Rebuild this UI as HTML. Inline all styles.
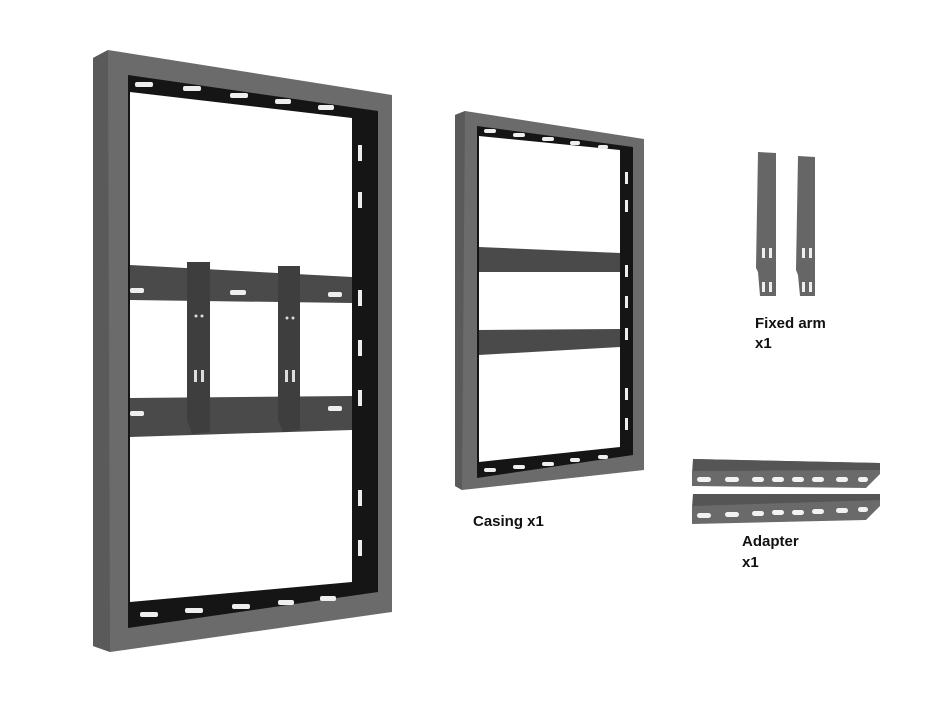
<!DOCTYPE html>
<html><head><meta charset="utf-8"><style>
html,body{margin:0;padding:0;background:#fff;}
svg{display:block;}
text{font-family:"Liberation Sans",Arial,sans-serif;font-weight:bold;font-size:15px;fill:#111;}
</style></head><body>
<svg width="940" height="705" viewBox="0 0 940 705" xmlns="http://www.w3.org/2000/svg">
<!-- Big frame -->
<polygon points="93,58 108,50 392,95 392,612 110,652 93,646" fill="#6b6b6b"/>
<polygon points="93,58 108,50 110,652 93,646" fill="#5a5a5a"/>
<polygon points="128,75 378,111 378,592 128,628" fill="#151515"/>
<polygon points="130,92 352,118 352,582 130,602" fill="#fff"/>
<g fill="#eee">
<rect x="135" y="82" width="18" height="5" rx="2"/><rect x="183" y="86" width="18" height="5" rx="2"/><rect x="230" y="93" width="18" height="5" rx="2"/><rect x="275" y="99" width="16" height="5" rx="2"/><rect x="318" y="105" width="16" height="5" rx="2"/>
<rect x="358" y="145" width="4" height="16"/><rect x="358" y="192" width="4" height="16"/><rect x="358" y="290" width="4" height="16"/><rect x="358" y="340" width="4" height="16"/><rect x="358" y="390" width="4" height="16"/><rect x="358" y="490" width="4" height="16"/><rect x="358" y="540" width="4" height="16"/>
<rect x="140" y="612" width="18" height="5" rx="2"/><rect x="185" y="608" width="18" height="5" rx="2"/><rect x="232" y="604" width="18" height="5" rx="2"/><rect x="278" y="600" width="16" height="5" rx="2"/><rect x="320" y="596" width="16" height="5" rx="2"/>
</g>
<!-- rails -->
<polygon points="130,265 352,277 352,303 130,300" fill="#4a4a4a"/>
<polygon points="130,398 352,396 352,430 130,437" fill="#4a4a4a"/>
<g fill="#eee"><rect x="130" y="288" width="14" height="5" rx="2"/><rect x="230" y="290" width="16" height="5" rx="2"/><rect x="328" y="292" width="14" height="5" rx="2"/>
<rect x="130" y="411" width="14" height="5" rx="2"/><rect x="328" y="406" width="14" height="5" rx="2"/></g>
<!-- arms -->
<polygon points="187,262 210,262 210,432 192,434 187,420" fill="#3e3e3e"/>
<polygon points="278,266 300,266 300,430 283,432 278,420" fill="#3e3e3e"/>
<g fill="#ddd"><rect x="194" y="370" width="3" height="12"/><rect x="201" y="370" width="3" height="12"/><rect x="285" y="370" width="3" height="12"/><rect x="292" y="370" width="3" height="12"/>
<circle cx="196" cy="316" r="1.5"/><circle cx="202" cy="316" r="1.5"/><circle cx="287" cy="318" r="1.5"/><circle cx="293" cy="318" r="1.5"/></g>
<!-- Casing -->
<polygon points="455,115 465,111 644,139 644,470 462,490 455,486" fill="#6b6b6b"/>
<polygon points="455,115 465,111 462,490 455,486" fill="#5a5a5a"/>
<polygon points="477,126 633,147 633,455 477,478" fill="#151515"/>
<polygon points="479,136 620,150 620,447 479,462" fill="#fff"/>
<polygon points="479,247 620,253 620,272 479,272" fill="#4a4a4a"/>
<polygon points="479,330 620,329 620,347 479,355" fill="#4a4a4a"/>
<g fill="#eee"><rect x="484" y="129" width="12" height="4" rx="2"/><rect x="513" y="133" width="12" height="4" rx="2"/><rect x="542" y="137" width="12" height="4" rx="2"/><rect x="570" y="141" width="10" height="4" rx="2"/><rect x="598" y="145" width="10" height="4" rx="2"/>
<rect x="484" y="468" width="12" height="4" rx="2"/><rect x="513" y="465" width="12" height="4" rx="2"/><rect x="542" y="462" width="12" height="4" rx="2"/><rect x="570" y="458" width="10" height="4" rx="2"/><rect x="598" y="455" width="10" height="4" rx="2"/>
<rect x="625" y="172" width="3" height="12"/><rect x="625" y="200" width="3" height="12"/><rect x="625" y="265" width="3" height="12"/><rect x="625" y="296" width="3" height="12"/><rect x="625" y="328" width="3" height="12"/><rect x="625" y="388" width="3" height="12"/><rect x="625" y="418" width="3" height="12"/></g>
<text x="473" y="526">Casing x1</text>
<!-- Fixed arms -->
<polygon points="758,152 776,153 776,296 760,296 758,272 756,268" fill="#666"/>
<polygon points="798,156 815,157 815,296 800,296 798,275 796,270" fill="#666"/>
<g fill="#eee"><rect x="762" y="248" width="3" height="10"/><rect x="769" y="248" width="3" height="10"/><rect x="762" y="282" width="3" height="10"/><rect x="769" y="282" width="3" height="10"/>
<rect x="802" y="248" width="3" height="10"/><rect x="809" y="248" width="3" height="10"/><rect x="802" y="282" width="3" height="10"/><rect x="809" y="282" width="3" height="10"/></g>
<text x="755" y="328">Fixed arm</text>
<text x="755" y="348">x1</text>
<!-- Adapters -->
<polygon points="693,459 880,463 880,474 866,488 692,486 692,472" fill="#6a6a6a"/>
<polygon points="693,459 880,463 880,470 693,471" fill="#555"/>
<polygon points="693,494 880,494 880,506 866,520 692,524 692,506" fill="#6a6a6a"/>
<polygon points="693,494 880,494 880,500 693,506" fill="#555"/>
<g fill="#f2f2f2"><rect x="697" y="477" width="14" height="5" rx="2.5"/><rect x="725" y="477" width="14" height="5" rx="2.5"/><rect x="752" y="477" width="12" height="5" rx="2.5"/><rect x="772" y="477" width="12" height="5" rx="2.5"/><rect x="792" y="477" width="12" height="5" rx="2.5"/><rect x="812" y="477" width="12" height="5" rx="2.5"/><rect x="836" y="477" width="12" height="5" rx="2.5"/><rect x="858" y="477" width="10" height="5" rx="2.5"/>
<rect x="697" y="513" width="14" height="5" rx="2.5"/><rect x="725" y="512" width="14" height="5" rx="2.5"/><rect x="752" y="511" width="12" height="5" rx="2.5"/><rect x="772" y="510" width="12" height="5" rx="2.5"/><rect x="792" y="510" width="12" height="5" rx="2.5"/><rect x="812" y="509" width="12" height="5" rx="2.5"/><rect x="836" y="508" width="12" height="5" rx="2.5"/><rect x="858" y="507" width="10" height="5" rx="2.5"/></g>
<text x="742" y="546">Adapter</text>
<text x="742" y="567">x1</text>
</svg>
</body></html>
